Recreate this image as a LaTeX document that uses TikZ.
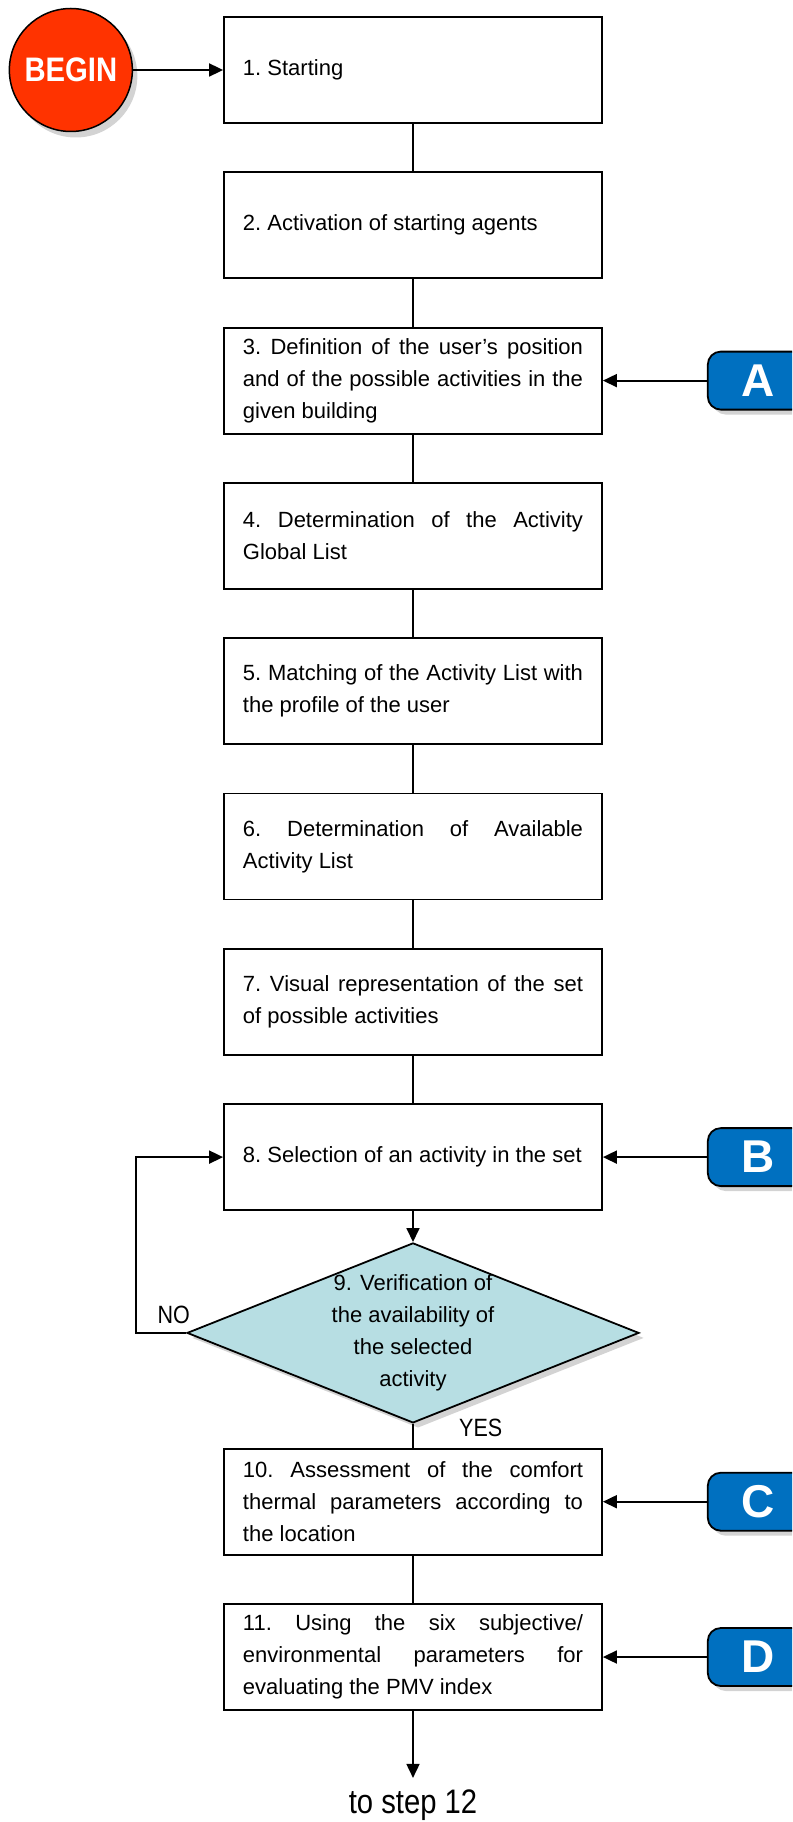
\documentclass[tikz,border=0pt]{standalone}
\usepackage{fontspec}
\setmainfont{Liberation Sans}
\newfontfamily\narrowfont{Liberation Sans}[FakeStretch=0.86]
\usetikzlibrary{positioning,shapes.geometric,arrows.meta,shadows}

\definecolor{beginred}{HTML}{FF3300}
\definecolor{tabblue}{HTML}{0070C0}
\definecolor{checkcyan}{HTML}{B7DEE3}

% justified text of a step box
\newcommand{\steptext}[1]{\parbox{340pt}{\frenchspacing\hyphenpenalty=10000\relax\tolerance=9999\relax #1}}

\tikzset{
    stepbox/.style={draw, line width=1.8pt, inner xsep=19pt, inner ysep=2pt, minimum width=378pt, minimum height=106pt,
        font=\fontsize{22}{32}\selectfont},
    checkbox/.style={diamond, draw, line width=1.8pt, fill=checkcyan, minimum width=452pt, minimum height=180pt, inner sep=0pt,
        drop shadow={shadow xshift=5pt, shadow yshift=-5pt, opacity=0.35}},
    tabnode/.style={draw, line width=1.8pt, fill=tabblue, rounded corners=13pt, minimum width=100pt, minimum height=58pt, inner sep=0pt,
        text=white, font=\fontsize{46}{46}\selectfont\bfseries, drop shadow={shadow xshift=5pt, shadow yshift=-5pt, opacity=0.35}},
    link/.style={line width=1.8pt},
    flow/.style={line width=1.8pt, -{Triangle[length=14pt, width=13pt]}},
    answer/.style={inner sep=2pt, font=\narrowfont\fontsize{25}{25}\selectfont},
}

\begin{document}
\begin{tikzpicture}
    \useasboundingbox (-413pt,70pt) rectangle (379pt,-1752pt);
    \clip (-413pt,70pt) rectangle (379pt,-1752pt);

    % steps 1 to 8
    \node (start) [stepbox] at (0,0) {\steptext{1. Starting}};
    \node (agents) [stepbox, below=47.5pt of start] {\steptext{2. Activation of starting agents}};
    \node (position) [stepbox, below=47.5pt of agents] {\steptext{3. Definition of the user’s position\linebreak and of the possible activities in the\linebreak given building}};
    \node (globallist) [stepbox, below=47.5pt of position] {\steptext{4. Determination of the Activity\linebreak Global List}};
    \node (matching) [stepbox, below=47.5pt of globallist] {\steptext{5. Matching of the Activity List with\linebreak the profile of the user}};
    \node (available) [stepbox, below=47.5pt of matching] {\steptext{6. Determination of Available\linebreak Activity List}};
    \node (visual) [stepbox, below=47.5pt of available] {\steptext{7. Visual representation of the set\linebreak of possible activities}};
    \node (select) [stepbox, below=47.5pt of visual] {\steptext{8. Selection of an activity in the set}};

    % step 9
    \node (verify) [checkbox, below=31pt of select] {};
    \node (verifytext) [align=center, inner sep=0pt, font=\fontsize{22}{32}\selectfont] at (verify) {9. Verification of\\the availability of\\the selected\\activity};

    % steps 10 and 11
    \node (assess) [stepbox, below=24pt of verify] {\steptext{10. Assessment of the comfort\linebreak thermal parameters according to\linebreak the location}};
    \node (pmv) [stepbox, below=47.5pt of assess] {\steptext{11. Using the six subjective/\linebreak environmental parameters for\linebreak evaluating the PMV index}};
    \coordinate (stepend) at ([yshift=-67pt]pmv.south);
    \node (nextstep) [below=12pt of stepend, inner sep=0pt, font=\narrowfont\fontsize{34}{34}\selectfont] {to step 12};

    \node (begin) [circle, draw, line width=1.5pt, fill=beginred, minimum size=123pt, inner sep=0pt, left=90pt of start,
        text=white, font=\narrowfont\bfseries\fontsize{34}{34}\selectfont, drop shadow={shadow xshift=5pt, shadow yshift=-6pt, opacity=0.35}] {BEGIN};

    \node (taba) [tabnode, right=104pt of position] {A};
    \node (tabb) [tabnode, right=104pt of select] {B};
    \node (tabc) [tabnode, right=104pt of assess] {C};
    \node (tabd) [tabnode, right=104pt of pmv] {D};

    \node (no) [answer, anchor=south east] at ([xshift=6pt, yshift=7pt]verify.west) {NO};
    \node (yes) [answer, anchor=west] at ([xshift=44pt, yshift=-4pt]verify.south) {YES};

    \draw[flow] (begin) -- (start);
    \draw[link] (start) -- (agents);
    \draw[link] (agents) -- (position);
    \draw[link] (position) -- (globallist);
    \draw[link] (globallist) -- (matching);
    \draw[link] (matching) -- (available);
    \draw[link] (available) -- (visual);
    \draw[link] (visual) -- (select);
    \draw[flow] (select) -- (verify);
    \draw[flow] (verify.west) -- ++(-50pt,0) |- (select.west);
    \draw[link] (verify) -- (assess);
    \draw[link] (assess) -- (pmv);
    \draw[flow] (pmv) -- (stepend);

    \draw[flow] (taba) -- (position);
    \draw[flow] (tabb) -- (select);
    \draw[flow] (tabc) -- (assess);
    \draw[flow] (tabd) -- (pmv);
\end{tikzpicture}
\end{document}
